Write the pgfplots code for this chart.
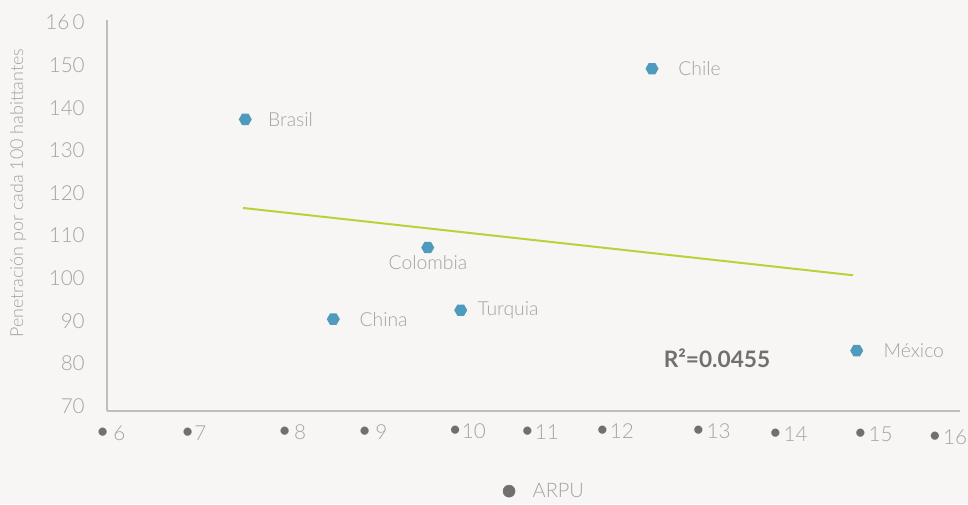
\documentclass[border=0pt]{standalone}
\usepackage{fontspec}
\setmainfont{Lato}[UprightFont={* Light}, BoldFont={* Bold}]
\usepackage{pgfplots}
\pgfplotsset{compat=1.18}
\definecolor{bg}{HTML}{F7F6F4}
\definecolor{txt}{HTML}{A3A3A3}
\definecolor{axisgray}{HTML}{BEBEBE}
\definecolor{mk}{HTML}{4E9BBD}
\definecolor{trend}{HTML}{B7D33A}
\definecolor{dark}{HTML}{707070}
\pgfdeclareplotmark{hex}{%
  \pgfpathmoveto{\pgfpointpolar{0}{\pgfplotmarksize}}%
  \pgfpathlineto{\pgfpointpolar{60}{\pgfplotmarksize}}%
  \pgfpathlineto{\pgfpointpolar{120}{\pgfplotmarksize}}%
  \pgfpathlineto{\pgfpointpolar{180}{\pgfplotmarksize}}%
  \pgfpathlineto{\pgfpointpolar{240}{\pgfplotmarksize}}%
  \pgfpathlineto{\pgfpointpolar{300}{\pgfplotmarksize}}%
  \pgfpathclose\pgfusepathqfill}
\newcommand{\xl}[3]{\raisebox{#1}[0pt][0pt]{\textcolor{dark}{\scalebox{1.35}{•}}\hspace{#2}#3}}
\begin{document}
\begin{tikzpicture}
\fill[bg] (0,0) rectangle (726pt,378pt);
\useasboundingbox (0,0) rectangle (726pt,378pt);
\begin{axis}[at={(80.25pt,69.75pt)}, anchor=south west, scale only axis,
  width=639.75pt, height=293.25pt,
  xmin=6.06, xmax=16.275, ymin=68.83, ymax=160.63,
  axis lines*=left, axis line style={axisgray, line width=0.8pt},
  major tick length=0pt, clip=false,
  ytick={70,80,90,100,110,120,130,140,150,160},
  yticklabels={70,80,90,100,110,120,130,140,150,16\,0},
  yticklabel style={font=\fontsize{15.5}{15.5}\selectfont, text=txt, inner sep=0pt, anchor=east, xshift=-16.5pt},
  xtick={6.096,7.090,8.269,9.234,10.365,11.234,12.132,13.287,14.210,15.228,16.120},
  xticklabels={\xl{-0.75pt}{2pt}{6},\xl{-0.75pt}{-1pt}{7},\xl{0pt}{1pt}{8},\xl{0pt}{2pt}{9},\xl{0.75pt}{-1pt}{10},\xl{0pt}{-0.5pt}{11},\xl{0.75pt}{-0.5pt}{12},\xl{0.75pt}{0pt}{13},\xl{-1.5pt}{0pt}{14},\xl{-1.5pt}{0pt}{15},\xl{-3.75pt}{0pt}{16}},
  xticklabel style={font=\fontsize{15.5}{15.5}\selectfont, text=txt, inner sep=0pt, anchor=center, yshift=-21pt},
  ylabel={Penetración por cada 100 habittantes},
  every axis y label/.style={at={(axis description cs:-0.104,0.557)}, rotate=90, anchor=center, font=\fontsize{13.4}{13.4}\selectfont, text=txt},
  legend style={at={(axis description cs:0.459,-0.205)}, anchor=west, draw=none, fill=none, font=\fontsize{15}{15}\selectfont, text=txt, column sep=11pt},
  legend image code/.code={\fill[dark] (0.3cm,0pt) circle (4.5pt);},
]
\addplot[trend, line width=1.5pt, forget plot] coordinates {(7.689,116.5) (14.994,100.7)};
\addplot[only marks, mark=hex, mark size=4.9pt, color=mk, forget plot] coordinates {
  (7.716,137.3) (12.587,149.2) (9.901,107.2) (8.770,90.4) (10.296,92.5) (15.038,83.0)};
\addlegendimage{only marks}
\addlegendentry{ARPU}
\begin{scope}[every node/.style={font=\fontsize{14.5}{14.5}\selectfont, text=txt, inner sep=0pt}]
\node[anchor=west, xshift=17pt] at (axis cs:7.716,137.3) {Brasil};
\node[anchor=west, xshift=19.5pt] at (axis cs:12.587,149.2) {Chile};
\node[anchor=center] at (axis cs:9.904,103.8) {Colombia};
\node[anchor=west, xshift=19.5pt] at (axis cs:8.770,90.4) {China};
\node[anchor=west, xshift=12.5pt] at (axis cs:10.296,92.5) {Turquia};
\node[anchor=west, xshift=20pt] at (axis cs:15.038,83.0) {México};
\end{scope}
\node[font=\bfseries\fontsize{17}{17}\selectfont, text=dark, inner sep=0pt] at (axis cs:13.365,81.27) {R²=0.0455};
\end{axis}
\end{tikzpicture}
\end{document}
